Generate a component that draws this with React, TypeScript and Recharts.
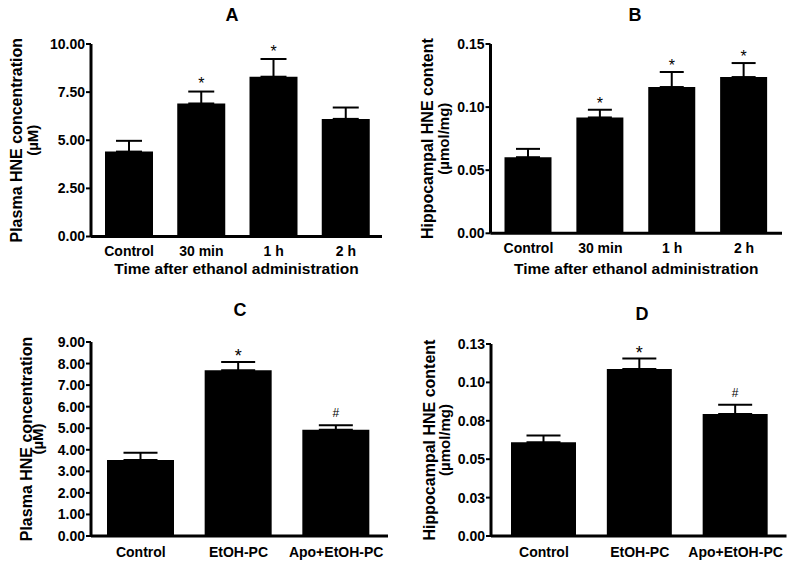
import React from 'react';
import { BarChart, Bar, XAxis, YAxis, ErrorBar, LabelList, Label } from 'recharts';

const FONT = "'Liberation Sans', Arial, Helvetica, sans-serif";

// ---------- Panel A ----------
const categoriesA = ['Control', '30 min', '1 h', '2 h'];
const valuesA = [4.41, 6.91, 8.3, 6.11];
const errorsA = [0.56, 0.62, 0.92, 0.59];
const marksA = ['', '*', '*', ''];
const ticksA = [0, 2.5, 5, 7.5, 10];
const tickLabelsA = ['0.00', '2.50', '5.00', '7.50', '10.00'];

// ---------- Panel B ----------
const categoriesB = ['Control', '30 min', '1 h', '2 h'];
const valuesB = [0.0603, 0.0918, 0.1159, 0.1238];
const errorsB = [0.0066, 0.0061, 0.0119, 0.0111];
const marksB = ['', '*', '*', '*'];
const ticksB = [0, 0.05, 0.1, 0.15];
const tickLabelsB = ['0.00', '0.05', '0.10', '0.15'];

// ---------- Panel C ----------
const categoriesC = ['Control', 'EtOH-PC', 'Apo+EtOH-PC'];
const valuesC = [3.52, 7.69, 4.93];
const errorsC = [0.34, 0.38, 0.21];
const marksC = ['', '*', '#'];
const ticksC = [0, 1, 2, 3, 4, 5, 6, 7, 8, 9];
const tickLabelsC = ['0.00', '1.00', '2.00', '3.00', '4.00', '5.00', '6.00', '7.00', '8.00', '9.00'];

// ---------- Panel D ----------
const categoriesD = ['Control', 'EtOH-PC', 'Apo+EtOH-PC'];
const valuesD = [0.0611, 0.1088, 0.0795];
const errorsD = [0.0043, 0.0067, 0.0059];
const marksD = ['', '*', '#'];
const ticksD = [0, 0.025, 0.05, 0.075, 0.1, 0.125];
const tickLabelsD = ['0.00', '0.03', '0.05', '0.08', '0.10', '0.13'];

const xTitleText = 'Time after ethanol administration';
const plasmaLabel = ['Plasma HNE concentration', '(\u00b5M)'];
const hippoLabel = ['Hippocampal HNE content', '(\u00b5mol/mg)'];

type PanelProps = {
  title: string;
  titleX: number;
  titleY: number;
  categories: string[];
  values: number[];
  errors: number[];
  marks: string[];
  ticks: number[];
  tickLabels: string[];
  yLabel: string[];
  yl1X: number;
  yl2X: number;
  xTitle?: string;
  xTitleY?: number;
  left: number;
  top: number;
  width: number;
  height: number;
  margin: { top: number; right: number; bottom: number; left: number };
  yAxisWidth: number;
  xAxisHeight: number;
  padLeft: number;
  padRight: number;
  barSize: number;
  capHalf: number;
  xTickMargin: number;
  starSize: number;
  starLift: number;
};

function Panel(p: PanelProps) {
  // upward-only error bars: [lower, upper]
  const data = p.categories.map((c, i) => ({ name: c, value: p.values[i], err: [0, p.errors[i]] }));
  const plotTop = p.margin.top;
  const plotBottom = p.height - p.margin.bottom - p.xAxisHeight;
  const plotLeft = p.margin.left + p.yAxisWidth;
  const plotRight = p.width - p.margin.right;
  const cy = (plotTop + plotBottom) / 2;
  const cx = (plotLeft + plotRight) / 2;
  const domainMax = p.ticks[p.ticks.length - 1];

  const fmt = (v: number) => {
    const idx = p.ticks.findIndex((t) => Math.abs(t - v) < 1e-9);
    return idx >= 0 ? p.tickLabels[idx] : String(v);
  };

  const YLabelContent = () => (
    <g>
      <text
        x={p.titleX}
        y={p.titleY}
        textAnchor="middle"
        fontFamily={FONT}
        fontWeight={700}
        fontSize={18}
        fill="#000"
      >
        {p.title}
      </text>
      <text
        x={p.yl1X}
        y={cy}
        transform={`rotate(-90, ${p.yl1X}, ${cy})`}
        textAnchor="middle"
        fontFamily={FONT}
        fontWeight={700}
        fontSize={16}
        fill="#000"
      >
        {p.yLabel[0]}
      </text>
      <text
        x={p.yl2X}
        y={cy}
        transform={`rotate(-90, ${p.yl2X}, ${cy})`}
        textAnchor="middle"
        fontFamily={FONT}
        fontWeight={700}
        fontSize={15}
        fill="#000"
      >
        {p.yLabel[1]}
      </text>
    </g>
  );

  const XTitleContent = () =>
    p.xTitle ? (
      <text x={cx} y={p.xTitleY} textAnchor="middle" fontFamily={FONT} fontWeight={700} fontSize={15.5} fill="#000">
        {p.xTitle}
      </text>
    ) : null;

  const MarkContent = (props: any) => {
    const vb = props.viewBox || props;
    const i = typeof props.index === 'number' ? props.index : p.values.indexOf(props.value);
    const m = p.marks[i];
    if (!m || !vb || vb.height == null) return null;
    const { x, y, width, height } = vb;
    const pxPerUnit = height / p.values[i];
    const capY = y - p.errors[i] * pxPerUnit;
    const isStar = m === '*';
    return (
      <text
        x={x + width / 2}
        y={capY - (isStar ? p.starLift : 8)}
        textAnchor="middle"
        fontFamily={FONT}
        fontSize={isStar ? p.starSize : 12}
        fill="#000"
      >
        {m}
      </text>
    );
  };

  return (
    <div style={{ position: 'absolute', left: p.left, top: p.top, width: p.width, height: p.height }}>
      <BarChart width={p.width} height={p.height} data={data} margin={p.margin}>
        <XAxis
          dataKey="name"
          type="category"
          interval={0}
          tickLine={false}
          tickSize={0}
          tickMargin={p.xTickMargin}
          height={p.xAxisHeight}
          padding={{ left: p.padLeft, right: p.padRight }}
          axisLine={{ stroke: '#000', strokeWidth: 3 }}
          tick={{ fontSize: 14, fontWeight: 700, fill: '#000', fontFamily: FONT }}
        >
          <Label value={p.xTitle || ''} content={XTitleContent} />
        </XAxis>
        <YAxis
          type="number"
          domain={[0, domainMax]}
          ticks={p.ticks}
          interval={0}
          width={p.yAxisWidth}
          tickFormatter={fmt}
          tickSize={5}
          tickMargin={1}
          axisLine={{ stroke: '#000', strokeWidth: 3 }}
          tickLine={{ stroke: '#000', strokeWidth: 2 }}
          tick={{ fontSize: 14, fontWeight: 700, fill: '#000', fontFamily: FONT }}
        >
          <Label value={p.yLabel[0]} content={YLabelContent} />
        </YAxis>
        <Bar dataKey="value" fill="#000" barSize={p.barSize} isAnimationActive={false}>
          <ErrorBar dataKey="err" width={p.capHalf} stroke="#000" strokeWidth={2} direction="y" isAnimationActive={false} />
          <LabelList dataKey="value" content={MarkContent} />
        </Bar>
      </BarChart>
    </div>
  );
}

export default function App() {
  return (
    <div style={{ position: 'absolute', left: 0, top: 0, width: 800, height: 565, background: '#fff' }}>
      <Panel
        title="A"
        titleX={232}
        titleY={21}
        categories={categoriesA}
        values={valuesA}
        errors={errorsA}
        marks={marksA}
        ticks={ticksA}
        tickLabels={tickLabelsA}
        yLabel={plasmaLabel}
        yl1X={22}
        yl2X={38}
        xTitle={xTitleText}
        xTitleY={273.5}
        left={0}
        top={0}
        width={400}
        height={282}
        margin={{ top: 44, right: 18, bottom: 15, left: 0 }}
        yAxisWidth={91}
        xAxisHeight={30.5}
        padLeft={2}
        padRight={0}
        barSize={48}
        capHalf={13}
        xTickMargin={10}
        starSize={16}
        starLift={2.5}
      />
      <Panel
        title="B"
        titleX={235}
        titleY={21}
        categories={categoriesB}
        values={valuesB}
        errors={errorsB}
        marks={marksB}
        ticks={ticksB}
        tickLabels={tickLabelsB}
        yLabel={hippoLabel}
        yl1X={33}
        yl2X={49}
        xTitle={xTitleText}
        xTitleY={273.5}
        left={400}
        top={0}
        width={400}
        height={282}
        margin={{ top: 44, right: 18, bottom: 18, left: 0 }}
        yAxisWidth={90.5}
        xAxisHeight={30.7}
        padLeft={2}
        padRight={2}
        barSize={47}
        capHalf={12}
        xTickMargin={10}
        starSize={16}
        starLift={0.7}
      />
      <Panel
        title="C"
        titleX={240}
        titleY={34}
        categories={categoriesC}
        values={valuesC}
        errors={errorsC}
        marks={marksC}
        ticks={ticksC}
        tickLabels={tickLabelsC}
        yLabel={plasmaLabel}
        yl1X={32}
        yl2X={43}
        left={0}
        top={282}
        width={400}
        height={283}
        margin={{ top: 60, right: 12, bottom: 0, left: 0 }}
        yAxisWidth={91}
        xAxisHeight={29}
        padLeft={1}
        padRight={3}
        barSize={67}
        capHalf={17}
        xTickMargin={11}
        starSize={18}
        starLift={-0.4}
      />
      <Panel
        title="D"
        titleX={242}
        titleY={38}
        categories={categoriesD}
        values={valuesD}
        errors={errorsD}
        marks={marksD}
        ticks={ticksD}
        tickLabels={tickLabelsD}
        yLabel={hippoLabel}
        yl1X={35}
        yl2X={50}
        left={400}
        top={282}
        width={400}
        height={283}
        margin={{ top: 62, right: 13.5, bottom: 0, left: 0 }}
        yAxisWidth={91}
        xAxisHeight={29}
        padLeft={5}
        padRight={3}
        barSize={65}
        capHalf={17}
        xTickMargin={11}
        starSize={18}
        starLift={-0.4}
      />
    </div>
  );
}
